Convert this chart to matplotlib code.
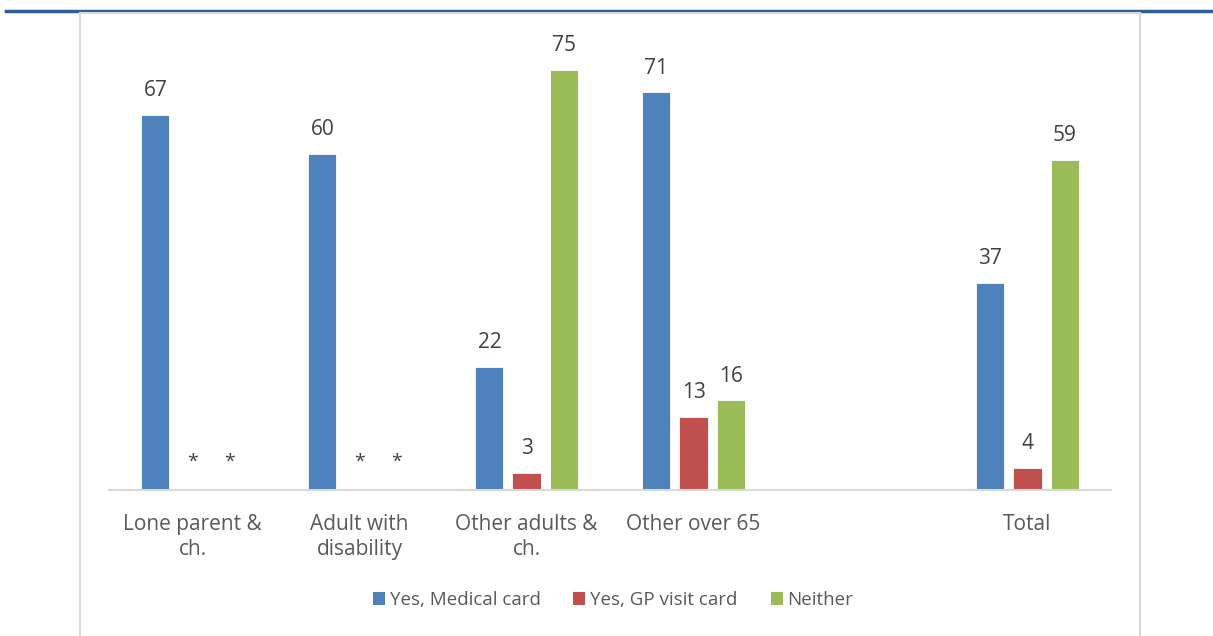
import numpy as np
import matplotlib
matplotlib.use("Agg")
import matplotlib.pyplot as plt
from matplotlib.lines import Line2D
from matplotlib.patches import Patch

plt.rcParams['font.family'] = ['Open Sans', 'DejaVu Sans']

# data; nan = suppressed value shown as "*"
categories = ['Lone parent &\nch.', 'Adult with\ndisability', 'Other adults &\nch.', 'Other over 65', '', 'Total']
series_names = ['Yes, Medical card', 'Yes, GP visit card', 'Neither']
medical = [67, 60, 22, 71, np.nan, 37]
gp_visit = [np.nan, np.nan, 3, 13, np.nan, 4]
neither = [np.nan, np.nan, 75, 16, np.nan, 59]
colors = ['#4F81BD', '#C0504D', '#9BBB59']

fig = plt.figure(figsize=(12.13, 6.36), dpi=100)
ax = fig.add_axes([109 / 1213, (636 - 490) / 636, 1002 / 1213, 448 / 636])

x = np.arange(len(categories))
width = 0.168
offsets = [-0.222, 0, 0.222]

for vals, off, col in zip([medical, gp_visit, neither], offsets, colors):
    for xi, v, cat in zip(x, vals, categories):
        if cat == '':
            continue
        if np.isnan(v):
            ax.annotate('*', (xi + off, 0), xytext=(0, 14), textcoords='offset points',
                        ha='center', va='bottom', fontsize=14, color='#404040')
            continue
        ax.bar(xi + off, v, width, color=col, edgecolor='white', linewidth=0.6)
        ax.annotate(str(v), (xi + off, v), xytext=(0, 10), textcoords='offset points',
                    ha='center', va='bottom', fontsize=15, color='#404040')

ax.set_xlim(-0.5, len(categories) - 0.5)
ax.set_ylim(0, 80)
ax.set_xticks(x)
ax.set_xticklabels(categories, fontsize=15, color='#595959', linespacing=1.25)
ax.tick_params(axis='x', length=0, pad=17)
ax.set_yticks([])
for s in ['top', 'right', 'left']:
    ax.spines[s].set_visible(False)
ax.spines['bottom'].set_color('#D9D9D9')
ax.spines['bottom'].set_linewidth(1.5)

handles = [Patch(facecolor=c, edgecolor='none') for c in colors]
fig.legend(handles, series_names, loc='center', bbox_to_anchor=(613 / 1213, 1 - 600 / 636),
           ncol=3, frameon=False, fontsize=13.5, labelcolor='#595959',
           handlelength=0.64, handleheight=0.64, handletextpad=0.27, columnspacing=1.75)

# page decorations: header rule and chart frame
fig.add_artist(Line2D([6 / 1213, 1], [1 - 11 / 636] * 2, color='#2E5E97', linewidth=2.5))
frame = dict(color='#D9D9D9', linewidth=1.5)
fig.add_artist(Line2D([80 / 1213, 1140 / 1213], [1 - 13 / 636] * 2, **frame))
fig.add_artist(Line2D([80 / 1213] * 2, [0, 1 - 13 / 636], **frame))
fig.add_artist(Line2D([1140 / 1213] * 2, [0, 1 - 13 / 636], **frame))

fig.savefig('out.png', dpi=100)
